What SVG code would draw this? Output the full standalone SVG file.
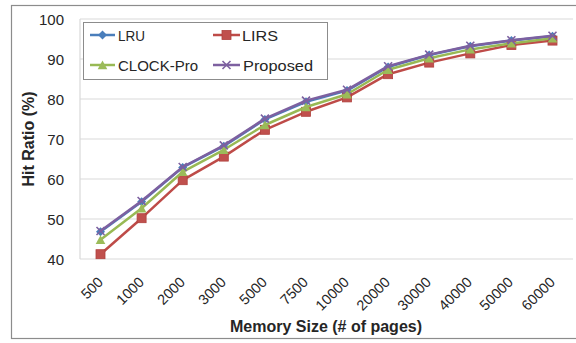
<svg xmlns="http://www.w3.org/2000/svg" width="576" height="343" viewBox="0 0 576 343">
<style>
text{font-family:"Liberation Sans",Arial,sans-serif;fill:#262626}
.yt{font-size:15px;text-anchor:end}
.xt{font-size:14.5px;text-anchor:end}
.ttl{font-size:16px;font-weight:bold;text-anchor:middle}
.lg{font-size:15px}
.grid{stroke:#d9d9d9;stroke-width:1.2}
.s{fill:none;stroke-width:2.5;stroke-linejoin:round}
.lru{stroke:#4a7ebb;marker-mid:url(#mLRU)}
.lirs{stroke:#be4b48;marker-mid:url(#mLIRS)}
.clk{stroke:#98b954;marker-mid:url(#mCLK)}
.pro{stroke:#7d60a0;marker-mid:url(#mPRO)}
.lru.d{marker-start:url(#mLRU);marker-end:url(#mLRU)}
.lirs.d{marker-start:url(#mLIRS);marker-end:url(#mLIRS)}
.clk.d{marker-start:url(#mCLK);marker-end:url(#mCLK)}
.pro.d{marker-start:url(#mPRO);marker-end:url(#mPRO)}
</style>
<defs>
<marker id="mLRU" markerUnits="userSpaceOnUse" markerWidth="12" markerHeight="12" refX="6" refY="6" overflow="visible"><path d="M6 1.5L10.5 6L6 10.5L1.5 6Z" fill="#4a7ebb"/></marker>
<marker id="mLIRS" markerUnits="userSpaceOnUse" markerWidth="12" markerHeight="12" refX="6" refY="6" overflow="visible"><rect x="1.5" y="1.5" width="9" height="9" fill="#c0504d" stroke="#b0403d" stroke-width="0.8"/></marker>
<marker id="mCLK" markerUnits="userSpaceOnUse" markerWidth="12" markerHeight="12" refX="6" refY="6" overflow="visible"><path d="M6 1.5L10.8 10.2L1.2 10.2Z" fill="#9bbb59"/></marker>
<marker id="mPRO" markerUnits="userSpaceOnUse" markerWidth="12" markerHeight="12" refX="6" refY="6" overflow="visible"><path d="M2 2L10 10M10 2L2 10" stroke="#7d60a0" stroke-width="1.6"/></marker>
</defs>
<rect x="0" y="0" width="576" height="343" fill="#ffffff"/>
<rect x="11.5" y="5.5" width="570" height="333" fill="#ffffff" stroke="#8c8c8c" stroke-width="1.2"/>
<g id="grid">
<line class="grid" x1="80" y1="19" x2="573" y2="19"/>
<line class="grid" x1="80" y1="59" x2="573" y2="59"/>
<line class="grid" x1="80" y1="99" x2="573" y2="99"/>
<line class="grid" x1="80" y1="139" x2="573" y2="139"/>
<line class="grid" x1="80" y1="179" x2="573" y2="179"/>
<line class="grid" x1="80" y1="219" x2="573" y2="219"/>
<line class="grid" x1="80" y1="259" x2="573" y2="259"/>
<line class="grid" x1="80" y1="19" x2="80" y2="259"/>
</g>
<g id="y-axis">
<text class="yt" x="64" y="24.5">100</text>
<text class="yt" x="64" y="64.5">90</text>
<text class="yt" x="64" y="104.5">80</text>
<text class="yt" x="64" y="144.5">70</text>
<text class="yt" x="64" y="184.5">60</text>
<text class="yt" x="64" y="224.5">50</text>
<text class="yt" x="64" y="264.5">40</text>
<text class="ttl" transform="translate(34 139) rotate(-90)">Hit Ratio (%)</text>
</g>
<g id="x-axis">
<text class="xt" transform="translate(104 283) rotate(-45)">500</text>
<text class="xt" transform="translate(145 283) rotate(-45)">1000</text>
<text class="xt" transform="translate(186 283) rotate(-45)">2000</text>
<text class="xt" transform="translate(227 283) rotate(-45)">3000</text>
<text class="xt" transform="translate(268 283) rotate(-45)">5000</text>
<text class="xt" transform="translate(309 283) rotate(-45)">7500</text>
<text class="xt" transform="translate(350 283) rotate(-45)">10000</text>
<text class="xt" transform="translate(391 283) rotate(-45)">20000</text>
<text class="xt" transform="translate(432 283) rotate(-45)">30000</text>
<text class="xt" transform="translate(473 283) rotate(-45)">40000</text>
<text class="xt" transform="translate(514 283) rotate(-45)">50000</text>
<text class="xt" transform="translate(556 283) rotate(-45)">60000</text>
<text class="ttl" x="326" y="332">Memory Size (# of pages)</text>
</g>
<g id="series">
<polyline id="LRU" class="s lru d" points="100.5,231.8 141.6,201.8 182.7,167.4 223.8,146.2 264.9,119.4 306,101.8 347,90.6 388.1,67 429.2,55 470.3,46.2 511.4,40.6 552.5,36.2"/>
<polyline id="LIRS" class="s lirs d" points="100.5,254.2 141.6,218.2 182.7,180.2 223.8,156.6 264.9,129.8 306,111.8 347,97.4 388.1,74.2 429.2,62.6 470.3,53.4 511.4,45 552.5,40.6"/>
<polyline id="CLOCK-Pro" class="s clk d" points="100.5,239.8 141.6,208.2 182.7,171.8 223.8,149.8 264.9,125 306,107 347,94.2 388.1,69.8 429.2,58.2 470.3,49.4 511.4,43.4 552.5,38.2"/>
<polyline id="Proposed" class="s pro d" points="100.5,231 141.6,201 182.7,167 223.8,145.4 264.9,118.6 306,100.6 347,89.8 388.1,66.2 429.2,54.6 470.3,45.8 511.4,40.2 552.5,35.8"/>
</g>
<g id="legend">
<rect x="83.5" y="22.5" width="244" height="57" fill="#ffffff" stroke="#8c8c8c" stroke-width="1"/>
<polyline class="s lru" points="90,35 102.5,35 115,35"/>
<text class="lg" x="118" y="40.5" textLength="27" lengthAdjust="spacingAndGlyphs">LRU</text>
<polyline class="s clk" points="90,65 102.5,65 115,65"/>
<text class="lg" x="118" y="70.5" textLength="80" lengthAdjust="spacingAndGlyphs">CLOCK-Pro</text>
<polyline class="s lirs" points="213,35 226.5,35 240,35"/>
<text class="lg" x="242" y="40.5" textLength="36" lengthAdjust="spacingAndGlyphs">LIRS</text>
<polyline class="s pro" points="213,65 226.5,65 240,65"/>
<text class="lg" x="243" y="70.5" textLength="70" lengthAdjust="spacingAndGlyphs">Proposed</text>
</g>
</svg>
